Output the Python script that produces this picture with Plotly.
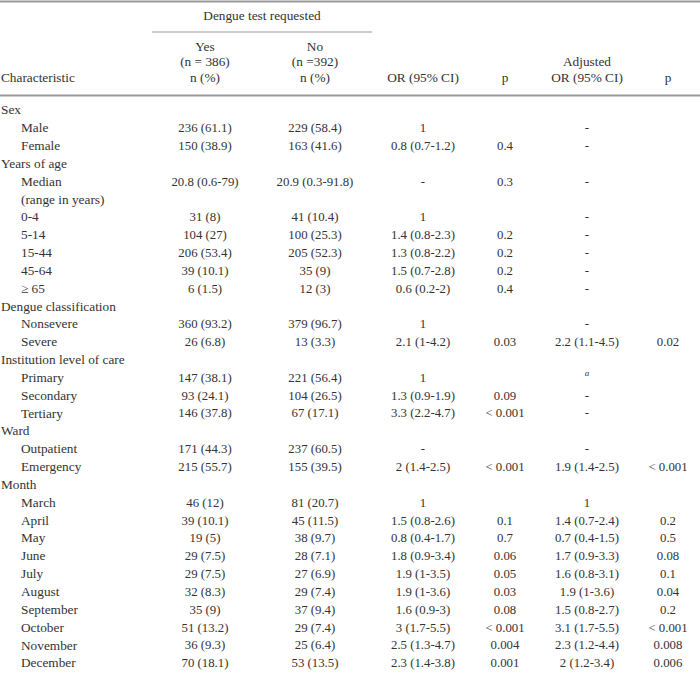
import plotly.graph_objects as go

# ---------------- data ----------------
characteristics = [
    "Sex", "Male", "Female",
    "Years of age", "Median", "(range in years)", "0-4", "5-14", "15-44", "45-64", "≥ 65",
    "Dengue classification", "Nonsevere", "Severe",
    "Institution level of care", "Primary", "Secondary", "Tertiary",
    "Ward", "Outpatient", "Emergency",
    "Month", "March", "April", "May", "June", "July", "August", "September",
    "October", "November", "December",
]
is_group = [1, 0, 0, 1, 0, 0, 0, 0, 0, 0, 0, 1, 0, 0, 1, 0, 0, 0, 1, 0, 0, 1,
            0, 0, 0, 0, 0, 0, 0, 0, 0, 0]
yes_n = [
    "", "236 (61.1)", "150 (38.9)",
    "", "20.8 (0.6-79)", "", "31 (8)", "104 (27)", "206 (53.4)", "39 (10.1)", "6 (1.5)",
    "", "360 (93.2)", "26 (6.8)",
    "", "147 (38.1)", "93 (24.1)", "146 (37.8)",
    "", "171 (44.3)", "215 (55.7)",
    "", "46 (12)", "39 (10.1)", "19 (5)", "29 (7.5)", "29 (7.5)", "32 (8.3)", "35 (9)",
    "51 (13.2)", "36 (9.3)", "70 (18.1)",
]
no_n = [
    "", "229 (58.4)", "163 (41.6)",
    "", "20.9 (0.3-91.8)", "", "41 (10.4)", "100 (25.3)", "205 (52.3)", "35 (9)", "12 (3)",
    "", "379 (96.7)", "13 (3.3)",
    "", "221 (56.4)", "104 (26.5)", "67 (17.1)",
    "", "237 (60.5)", "155 (39.5)",
    "", "81 (20.7)", "45 (11.5)", "38 (9.7)", "28 (7.1)", "27 (6.9)", "29 (7.4)", "37 (9.4)",
    "29 (7.4)", "25 (6.4)", "53 (13.5)",
]
or_ci = [
    "", "1", "0.8 (0.7-1.2)",
    "", "-", "", "1", "1.4 (0.8-2.3)", "1.3 (0.8-2.2)", "1.5 (0.7-2.8)", "0.6 (0.2-2)",
    "", "1", "2.1 (1-4.2)",
    "", "1", "1.3 (0.9-1.9)", "3.3 (2.2-4.7)",
    "", "-", "2 (1.4-2.5)",
    "", "1", "1.5 (0.8-2.6)", "0.8 (0.4-1.7)", "1.8 (0.9-3.4)", "1.9 (1-3.5)", "1.9 (1-3.6)",
    "1.6 (0.9-3)", "3 (1.7-5.5)", "2.5 (1.3-4.7)", "2.3 (1.4-3.8)",
]
p_vals = [
    "", "", "0.4",
    "", "0.3", "", "", "0.2", "0.2", "0.2", "0.4",
    "", "", "0.03",
    "", "", "0.09", "< 0.001",
    "", "", "< 0.001",
    "", "", "0.1", "0.7", "0.06", "0.05", "0.03", "0.08", "< 0.001", "0.004", "0.001",
]
adj_or = [
    "", "-", "-",
    "", "-", "", "-", "-", "-", "-", "-",
    "", "-", "2.2 (1.1-4.5)",
    "", "<sup><i>a</i></sup>", "-", "-",
    "", "-", "1.9 (1.4-2.5)",
    "", "1", "1.4 (0.7-2.4)", "0.7 (0.4-1.5)", "1.7 (0.9-3.3)", "1.6 (0.8-3.1)", "1.9 (1-3.6)",
    "1.5 (0.8-2.7)", "3.1 (1.7-5.5)", "2.3 (1.2-4.4)", "2 (1.2-3.4)",
]
adj_p = [
    "", "", "",
    "", "", "", "", "", "", "", "",
    "", "", "0.02",
    "", "", "", "",
    "", "", "< 0.001",
    "", "", "0.2", "0.5", "0.08", "0.1", "0.04", "0.2", "< 0.001", "0.008", "0.006",
]

header_group = "Dengue test requested"
header_yes = ["Yes", "(n = 386)", "n (%)"]
header_no = ["No", "(n =392)", "n (%)"]
header_or = "OR (95% CI)"
header_p = "p"
header_adj = ["Adjusted", "OR (95% CI)"]
header_char = "Characteristic"

# ---------------- layout config ----------------
FONT = "Liberation Serif, Times New Roman, serif"
COLOR = "#333333"
FS = 12.8
FS_LABEL = 13.3
ROW_PX = 17.84
ROW0_PX = 111
W, H = 700, 676

def row_of(px):
    return (px - ROW0_PX) / ROW_PX

col_x = {"yes": 205, "no": 315, "or": 423, "p": 505, "adj": 587, "adjp": 668}
rows = list(range(len(characteristics)))

fig = go.Figure()

def text_trace(xs, ys, texts, pos="middle center", size=FS):
    fig.add_trace(go.Scatter(
        x=xs, y=ys, text=texts, mode="text", textposition=pos,
        textfont=dict(family=FONT, size=size, color=COLOR),
        hoverinfo="skip", showlegend=False, cliponaxis=False,
    ))

# characteristic labels
grp_rows = [r for r in rows if is_group[r]]
itm_rows = [r for r in rows if not is_group[r]]
text_trace([1] * len(grp_rows), grp_rows, [characteristics[r] for r in grp_rows],
           "middle right", FS_LABEL)
text_trace([21] * len(itm_rows), itm_rows, [characteristics[r] for r in itm_rows],
           "middle right", FS_LABEL)

for key, col in [("yes", yes_n), ("no", no_n), ("or", or_ci), ("p", p_vals),
                 ("adj", adj_or), ("adjp", adj_p)]:
    text_trace([col_x[key]] * len(rows), rows, col)

# headers
y_grp, y_h1, y_h2, y_h3 = row_of(17), row_of(48), row_of(63), row_of(79)
text_trace([262], [y_grp], [header_group], size=FS_LABEL)
text_trace([col_x["yes"]] * 3, [y_h1, y_h2, y_h3], header_yes, size=FS_LABEL)
text_trace([col_x["no"]] * 3, [y_h1, y_h2, y_h3], header_no, size=FS_LABEL)
text_trace([col_x["or"]], [y_h3], [header_or], size=FS_LABEL)
text_trace([col_x["p"]], [y_h3], [header_p], size=FS_LABEL)
text_trace([col_x["adj"]] * 2, [y_h2, y_h3], header_adj, size=FS_LABEL)
text_trace([col_x["adjp"]], [y_h3], [header_p], size=FS_LABEL)
text_trace([1], [y_h3], [header_char], "middle right", FS_LABEL)

# rules
LINE_C = "#999999"
fig.add_shape(type="line", x0=0, x1=W, y0=row_of(1.5), y1=row_of(1.5), xref="x", yref="y",
              line=dict(color=LINE_C, width=2))
fig.add_shape(type="line", x0=152, x1=372, y0=row_of(32), y1=row_of(32), xref="x", yref="y",
              line=dict(color=LINE_C, width=1))
fig.add_shape(type="line", x0=0, x1=W, y0=row_of(95.5), y1=row_of(95.5), xref="x", yref="y",
              line=dict(color=LINE_C, width=2))

fig.update_xaxes(range=[0, W], visible=False, fixedrange=True)
fig.update_yaxes(range=[row_of(H), row_of(0)], visible=False, fixedrange=True)
fig.update_layout(width=W, height=H, margin=dict(l=0, r=0, t=0, b=0),
                  paper_bgcolor="white", plot_bgcolor="white")

fig.write_html("out.html", config={"displayModeBar": False},
               post_script="document.body.style.margin='0';document.body.style.overflow='hidden';")
